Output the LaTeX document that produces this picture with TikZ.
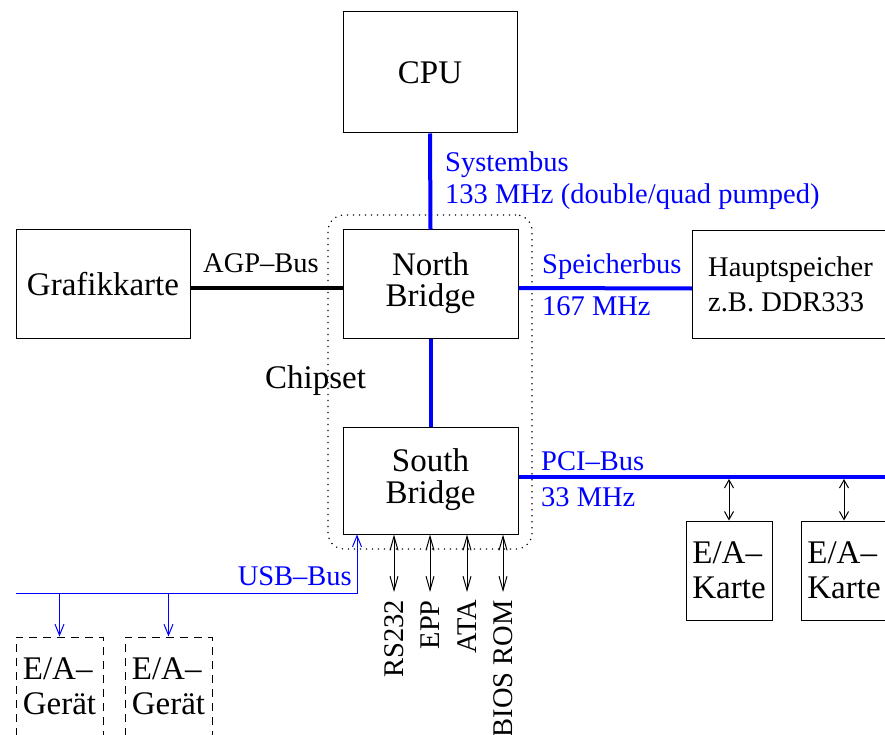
\documentclass[tikz,border=0pt]{standalone}
\usepackage{fontspec}
\setmainfont{Liberation Serif}
\usetikzlibrary{arrows.meta}
\newcommand{\twolines}[2]{\raisebox{-3pt}{\begin{tabular}{@{}c@{}}#1\\#2\end{tabular}}}
\begin{document}
\begin{tikzpicture}[x=1pt,y=-1pt,
  big/.style={font=\fontsize{33}{30}\selectfont},
  small/.style={font=\fontsize{28.5}{35}\selectfont},
  box/.style={draw, line width=1pt, inner sep=0pt, big, align=center},
  bus/.style={draw=blue, line width=4pt},
  agp/.style={draw=black, line width=4pt},
  lbl/.style={text=blue, small, inner sep=0pt},
  txt/.style={inner sep=0pt},
  longbarb/.tip={Straight Barb[length=14pt,width=8pt]},
  shortbarb/.tip={Straight Barb[length=8pt,width=9pt]},
  usbbarb/.tip={Straight Barb[length=11pt,width=9pt]},
  io/.style={line width=1pt, longbarb-longbarb},
  pcio/.style={line width=1pt, shortbarb-shortbarb},
  usb/.style={draw=blue, line width=1pt},
  chip/.style={draw, line width=1.2pt, dash pattern=on 1.2pt off 4.8pt, rounded corners=16pt, inner sep=0pt},
  dev/.style={draw, line width=1pt, dash pattern=on 8pt off 6pt, inner sep=0pt, font=\fontsize{33}{35}\selectfont, align=left}
]
\useasboundingbox (0,0) rectangle (885,735);
\clip (0,0) rectangle (885,735);

% boxes
\node[box, minimum width=174pt, minimum height=121pt] (cpu) at (430,72.5) {CPU};
\node[box, minimum width=175pt, minimum height=108pt] (nb) at (430.5,284) {\twolines{North}{Bridge}};
\node[box, minimum width=175pt, minimum height=107pt] (sb) at (430.5,480.5) {\twolines{South}{Bridge}};
\node[box, minimum width=174pt, minimum height=108pt] (gk) at (103,284) {Grafikkarte};
\node[box, small, align=left, anchor=north west, minimum width=196pt, minimum height=108pt] (hs) at (692,230) {Hauptspeicher\\z.B. DDR333};
\node[box, minimum width=86pt, minimum height=99pt, align=left, font=\fontsize{33}{35}\selectfont] (k1) at (729,570.5) {E/A–\\Karte};
\node[box, minimum width=86pt, minimum height=99pt, align=left, font=\fontsize{33}{35}\selectfont] (k2) at (844,570.5) {E/A–\\Karte};
\node[dev, minimum width=87pt, minimum height=99pt] (g1) at (59.5,686.5) {E/A–\\Gerät};
\node[dev, minimum width=87pt, minimum height=99pt] (g2) at (168.5,686.5) {E/A–\\Gerät};

% chipset
\node[chip, minimum width=204pt, minimum height=334pt] (chip) at (430,382) {};
\node[txt, big, anchor=base west] (chipl) at (265,388) {Chipset};

% buses
\draw[bus] (cpu.south) -- (nb.north);
\draw[bus] (nb.south) -- (sb.north);
\draw[agp] ([yshift=-4pt]gk.east) -- ([yshift=-4pt]nb.west);
\draw[bus] ([yshift=-4pt]nb.east) -- ([yshift=-4pt]hs.west);
\coordinate (pciend) at (890,477);
\draw[bus] (sb.east |- pciend) -- (pciend);

% bus labels
\node[lbl, anchor=base west] (sys1) at (445,172) {Systembus};
\node[lbl, anchor=base west] (sys2) at (445,204) {133 MHz (double/quad pumped)};
\node[lbl, anchor=base west] (sp1) at (542,273) {Speicherbus};
\node[lbl, anchor=base west] (sp2) at (542,315) {167 MHz};
\node[txt, small, anchor=base west] (agpl) at (203,272) {AGP–Bus};
\node[lbl, anchor=base west] (pci1) at (541,470) {PCI–Bus};
\node[lbl, anchor=base west] (pci2) at (541,506) {33 MHz};
\node[lbl, anchor=base east] (usbl) at (352,585) {USB–Bus};

% PCI cards
\draw[pcio] (k1.north) -- ([yshift=-2pt]k1.north |- pciend);
\draw[pcio] (k2.north) -- ([yshift=-2pt]k2.north |- pciend);

% south bridge ports
\node[txt, small, rotate=90, anchor=east] (rs) at (394,600) {RS232};
\node[txt, small, rotate=90, anchor=east] (epp) at (430,600) {EPP};
\node[txt, small, rotate=90, anchor=east] (ata) at (467,600) {ATA};
\node[txt, small, rotate=90, anchor=east] (bios) at (503,600) {BIOS ROM};
\draw[io] (sb.south -| rs.east) -- ([yshift=8pt]rs.east);
\draw[io] (sb.south -| epp.east) -- ([yshift=8pt]epp.east);
\draw[io] (sb.south -| ata.east) -- ([yshift=8pt]ata.east);
\draw[io] (sb.south -| bios.east) -- ([yshift=8pt]bios.east);

% USB
\coordinate (usbc) at (357,593);
\coordinate (usbe) at (16,593);
\draw[usb, usbbarb-] (sb.south -| usbc) -- (usbc) -- (usbe);
\draw[usb, -usbbarb] (g1.north |- usbc) -- (g1.north);
\draw[usb, -usbbarb] (g2.north |- usbc) -- (g2.north);
\end{tikzpicture}
\end{document}
